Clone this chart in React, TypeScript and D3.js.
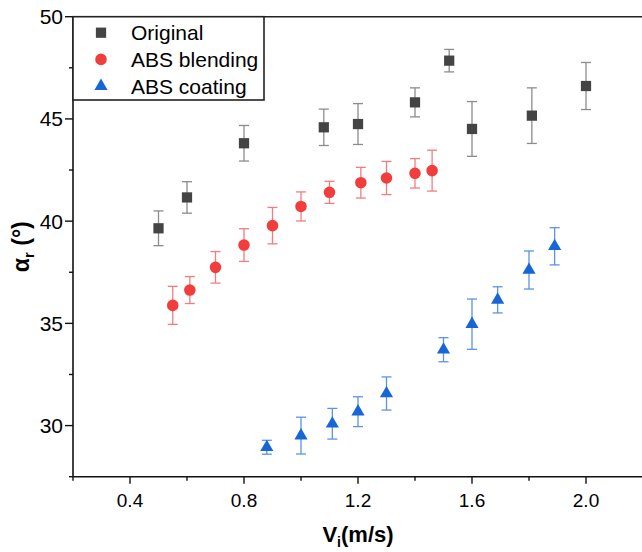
import React, { useEffect, useRef } from "react";
import * as d3 from "d3";

// speed values (m/s), angles (deg) and error half-widths for each series
const originalV = [0.5, 0.6, 0.8, 1.08, 1.2, 1.4, 1.52, 1.6, 1.81, 2.0];
const originalA = [39.65, 41.16, 43.81, 44.59, 44.75, 45.81, 47.85, 44.51, 45.16, 46.61];
const originalE = [0.85, 0.77, 0.87, 0.89, 1.0, 0.71, 0.55, 1.34, 1.36, 1.15];

const blendV = [0.55, 0.61, 0.7, 0.8, 0.9, 1.0, 1.1, 1.21, 1.3, 1.4, 1.46];
const blendA = [35.88, 36.63, 37.74, 38.83, 39.78, 40.72, 41.41, 41.88, 42.11, 42.34, 42.47];
const blendE = [0.93, 0.66, 0.77, 0.8, 0.89, 0.71, 0.54, 0.75, 0.81, 0.72, 1.0];

const coatV = [0.88, 1.0, 1.11, 1.2, 1.3, 1.5, 1.6, 1.69, 1.8, 1.89];
const coatA = [28.94, 29.51, 30.09, 30.68, 31.57, 33.71, 34.96, 36.15, 37.61, 38.77];
const coatE = [0.34, 0.9, 0.75, 0.73, 0.81, 0.59, 1.23, 0.64, 0.93, 0.91];

const xTicks = [0.4, 0.8, 1.2, 1.6, 2.0];
const yTicks = [30, 35, 40, 45, 50];

const seriesList = [
  { name: "Original", v: originalV, a: originalA, e: originalE, symbol: d3.symbolSquare, size: 105, fill: "#444444", bar: "#8c8c8c" },
  { name: "ABS blending", v: blendV, a: blendA, e: blendE, symbol: d3.symbolCircle, size: 105, fill: "#f23d3d", bar: "#f47c7c" },
  { name: "ABS coating", v: coatV, a: coatA, e: coatE, symbol: d3.symbolTriangle, size: 75, fill: "#1766d6", bar: "#5b94e4" },
];

const App = () => {
  const svgRef = useRef(null);

  useEffect(() => {
    const svg = d3.select(svgRef.current);
    svg.selectAll("*").remove();

    const left = 73;
    const right = 643;
    const top = 16.7;
    const bottom = 476.7;
    const font = "'Liberation Sans', Arial, sans-serif";

    const x = d3.scaleLinear().domain([0.2, 2.2]).range([left, right]);
    const y = d3.scaleLinear().domain([27.5, 50]).range([bottom, top]);

    // error bars and markers
    seriesList.forEach((s) => {
      const g = svg.append("g");
      const pts = s.v.map((v, i) => ({ v, a: s.a[i], e: s.e[i] }));
      pts.forEach((d) => {
        const cx = x(d.v);
        const y1 = y(d.a + d.e);
        const y2 = y(d.a - d.e);
        g.append("line").attr("x1", cx).attr("x2", cx).attr("y1", y1).attr("y2", y2)
          .attr("stroke", s.bar).attr("stroke-width", 1.3);
        [y1, y2].forEach((yy) =>
          g.append("line").attr("x1", cx - 5).attr("x2", cx + 5).attr("y1", yy).attr("y2", yy)
            .attr("stroke", s.bar).attr("stroke-width", 1.3)
        );
      });
      g.selectAll("path")
        .data(pts)
        .enter()
        .append("path")
        .attr("d", d3.symbol().type(s.symbol).size(s.size))
        .attr("transform", (d) => `translate(${x(d.v)},${y(d.a)})`)
        .attr("fill", s.fill);
    });

    // x axis
    const xAxis = svg.append("g").attr("transform", `translate(0,${bottom})`);
    xAxis.append("line").attr("x1", left).attr("x2", right).attr("stroke", "#111").attr("stroke-width", 1.6);
    d3.range(0.2, 2.21, 0.2).forEach((t) => {
      const major = xTicks.some((m) => Math.abs(m - t) < 1e-6);
      xAxis.append("line").attr("x1", x(t)).attr("x2", x(t)).attr("y1", 0).attr("y2", major ? 7 : 4)
        .attr("stroke", "#111").attr("stroke-width", 1.4);
    });
    xAxis.selectAll("text.tick")
      .data(xTicks)
      .enter()
      .append("text")
      .attr("x", (d) => x(d))
      .attr("y", 30)
      .attr("text-anchor", "middle")
      .style("font-family", font)
      .style("font-size", "19px")
      .text((d) => d.toFixed(1));

    // y axis
    const yAxis = svg.append("g").attr("transform", `translate(${left},0)`);
    yAxis.append("line").attr("y1", top).attr("y2", bottom).attr("stroke", "#111").attr("stroke-width", 1.6);
    d3.range(27.5, 50.1, 2.5).forEach((t) => {
      const major = yTicks.includes(t);
      yAxis.append("line").attr("x1", 0).attr("x2", major ? -8 : -4).attr("y1", y(t)).attr("y2", y(t))
        .attr("stroke", "#111").attr("stroke-width", 1.4);
    });
    yAxis.selectAll("text.tick")
      .data(yTicks)
      .enter()
      .append("text")
      .attr("x", -10)
      .attr("y", (d) => y(d))
      .attr("dy", "0.36em")
      .attr("text-anchor", "end")
      .style("font-family", font)
      .style("font-size", "21px")
      .text((d) => d);

    // top frame line
    svg.append("line").attr("x1", left).attr("x2", right).attr("y1", top).attr("y2", top)
      .attr("stroke", "#222").attr("stroke-width", 1.6);

    // axis titles
    const xt = svg.append("text")
      .attr("x", (left + right) / 2)
      .attr("y", 542)
      .attr("text-anchor", "middle")
      .style("font-family", font)
      .style("font-size", "22px")
      .style("font-weight", "bold");
    xt.append("tspan").text("V");
    xt.append("tspan").attr("dy", 5).style("font-size", "14px").text("i");
    xt.append("tspan").attr("dy", -5).text("(m/s)");

    const yt = svg.append("text")
      .attr("transform", `translate(29,${(top + bottom) / 2}) rotate(-90)`)
      .attr("text-anchor", "middle")
      .style("font-family", font)
      .style("font-size", "23px")
      .style("font-weight", "bold");
    yt.append("tspan").text("α");
    yt.append("tspan").attr("dy", 5).style("font-size", "15px").text("r");
    yt.append("tspan").attr("dy", -5).text(" (°)");

    // legend
    const lg = svg.append("g");
    lg.append("rect").attr("x", left).attr("y", top).attr("width", 191).attr("height", 83.3)
      .attr("fill", "white").attr("stroke", "#222").attr("stroke-width", 1.6);
    seriesList.forEach((s, i) => {
      const cy = 32.7 + i * 26.7;
      lg.append("path")
        .attr("d", d3.symbol().type(s.symbol).size(s.size)())
        .attr("transform", `translate(101,${cy})`)
        .attr("fill", s.fill);
      lg.append("text")
        .attr("x", 131)
        .attr("y", cy)
        .attr("dy", "0.36em")
        .style("font-family", font)
        .style("font-size", "21px")
        .text(s.name);
    });
  }, []);

  return (
    <svg
      ref={svgRef}
      width={642}
      height={552}
      style={{ position: "absolute", left: 0, top: 0, background: "white" }}
    ></svg>
  );
};

export default App;
